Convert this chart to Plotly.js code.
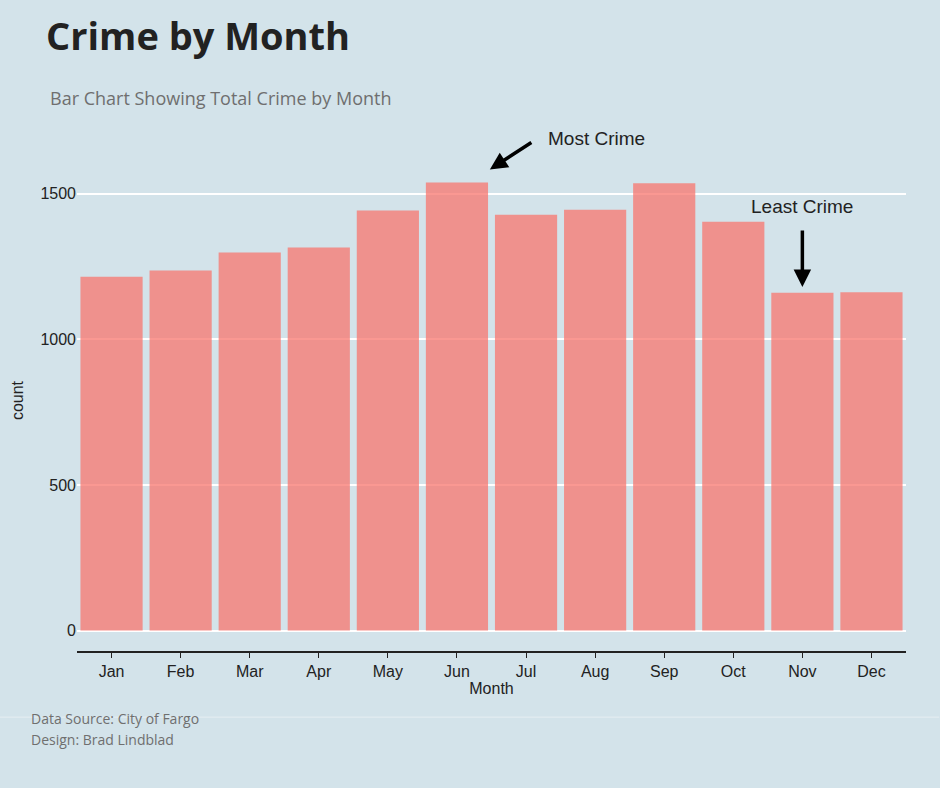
<!DOCTYPE html>
<html><head><script src="https://cdn.plot.ly/plotly-3.0.1.min.js"></script>
<style>body{margin:0;background:#d3e3ea}</style></head>
<body><div id="c" style="width:940px;height:788px"></div>
<script>
const months=["Jan","Feb","Mar","Apr","May","Jun","Jul","Aug","Sep","Oct","Nov","Dec"];
const counts=[1215,1236,1298,1315,1442,1538,1428,1445,1536,1404,1160,1162];
const yTicks=[0,500,1000,1500];
const grey="#6f6f6f";
Plotly.newPlot("c",[{type:"bar",x:months,y:counts,marker:{color:"rgba(248,118,109,0.75)"},width:0.9,hoverinfo:"x+y"}],{
 width:940,height:788,paper_bgcolor:"#d3e3ea",plot_bgcolor:"#d3e3ea",
 margin:{l:77,r:34,t:150,b:137},showlegend:false,bargap:0.1,
 font:{family:"Liberation Sans, Arial",color:"#222",size:16},
 xaxis:{showline:true,linecolor:"#222",linewidth:1.5,ticks:"outside",ticklen:5,tickcolor:"#222",showgrid:false,
  title:{text:"Month",font:{size:16},standoff:4},tickfont:{size:16}},
 yaxis:{range:[-70,1650],tickvals:yTicks,gridcolor:"#ffffff",gridwidth:2,zeroline:false,
  title:{text:"count",font:{size:16},standoff:12},tickfont:{size:16},ticks:""},
 shapes:[{type:"line",xref:"paper",yref:"paper",x0:-0.093,x1:1.04,y0:-0.132,y1:-0.132,line:{color:"#e6eef2",width:1}}],
 annotations:[
  {xref:"paper",yref:"paper",x:-0.04,y:1.23,xanchor:"left",yanchor:"middle",showarrow:false,text:"<b>Crime by Month</b>",font:{family:"Open Sans",size:38,color:"#222"}},
  {xref:"paper",yref:"paper",x:-0.035,y:1.104,xanchor:"left",yanchor:"middle",showarrow:false,text:"Bar Chart Showing Total Crime by Month",font:{family:"Open Sans",size:18,color:grey}},
  {xref:"paper",yref:"y",x:0.498,y:1583,ax:43,ay:-28,showarrow:true,arrowhead:2,arrowsize:1,arrowwidth:3.5,arrowcolor:"#000",text:""},
  {xref:"paper",yref:"paper",x:0.627,y:1.047,xanchor:"center",showarrow:false,text:"Most Crime",font:{size:19}},
  {x:"Nov",y:1180,ax:0,ay:-58,showarrow:true,arrowhead:2,arrowsize:1,arrowwidth:3.5,arrowcolor:"#000",text:""},
  {x:"Nov",y:1455,showarrow:false,text:"Least Crime",font:{size:19}},
  {xref:"paper",yref:"paper",x:-0.058,y:-0.158,xanchor:"left",showarrow:false,text:"Data Source: City of Fargo",font:{family:"Open Sans",size:14,color:grey}},
  {xref:"paper",yref:"paper",x:-0.058,y:-0.2,xanchor:"left",showarrow:false,text:"Design: Brad Lindblad",font:{family:"Open Sans",size:14,color:grey}}
 ]},{displayModeBar:false});
</script></body></html>
